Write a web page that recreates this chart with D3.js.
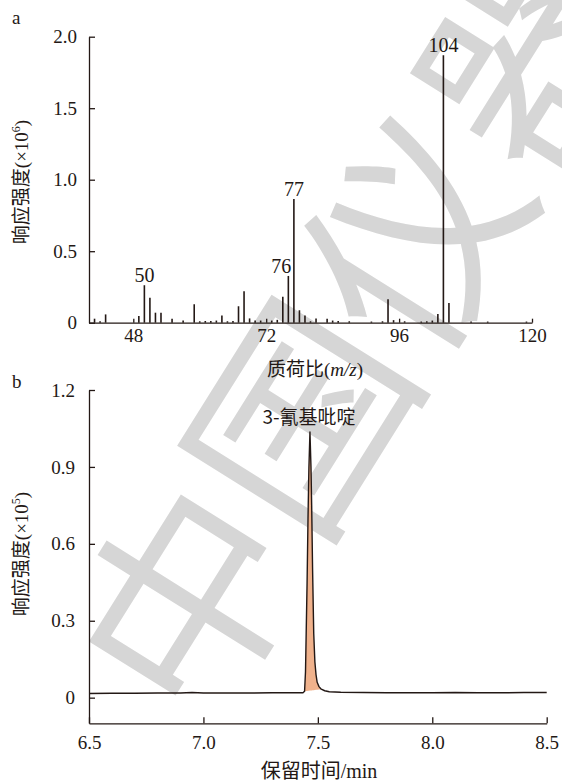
<!DOCTYPE html>
<html>
<head>
<meta charset="utf-8">
<script src="https://cdn.jsdelivr.net/npm/d3@7"></script>
<style>
  body { margin: 0; background: #fff; }
  svg { display: block; }
  text { fill: #231815; }
</style>
</head>
<body>
<div id="chart"></div>
<script>
// panel a: mass spectrum (m/z, intensity x10^6)
const specMz = [41, 42, 43, 49, 50, 51, 52, 53, 55, 57, 59, 60, 61, 62, 63, 64, 65, 66, 67, 68,
  69, 70, 71, 73, 74, 75, 76, 77, 78, 79, 80, 81, 83, 84, 85, 87, 91, 93, 94, 95,
  97, 100, 101, 102, 103, 104, 105, 109, 112, 119];
const specInt = [0.028, 0.01, 0.058, 0.047, 0.262, 0.175, 0.07, 0.07, 0.028, 0.016, 0.129, 0.01, 0.012, 0.012, 0.015, 0.05, 0.01, 0.012, 0.115, 0.22,
  0.03, 0.015, 0.015, 0.015, 0.02, 0.182, 0.327, 0.865, 0.087, 0.05, 0.01, 0.03, 0.028, 0.015, 0.012, 0.01, 0.008, 0.01, 0.164, 0.018,
  0.01, 0.008, 0.01, 0.015, 0.061, 1.87, 0.138, 0.008, 0.008, 0.008];
const specLabels = [50, 76, 77, 104];
const specXTicks = [48, 72, 96, 120];
const specYTicks = [0, 0.5, 1.0, 1.5, 2.0];

// panel b: chromatogram (min, intensity x10^5)
const chromTime = [6.5, 6.6, 6.7, 6.8, 6.9, 6.95, 7.0, 7.1, 7.2, 7.3, 7.4, 7.435,
  7.442, 7.446, 7.449, 7.453, 7.457, 7.461, 7.4655, 7.47, 7.473, 7.477, 7.482, 7.487,
  7.492, 7.497, 7.505, 7.515, 7.53, 7.55, 7.6, 7.7, 7.8, 7.9, 8.0, 8.1, 8.2, 8.3, 8.4, 8.5];
const chromInt = [0.016, 0.017, 0.017, 0.018, 0.018, 0.02, 0.018, 0.018, 0.018, 0.019, 0.019, 0.019,
  0.025, 0.1, 0.25, 0.45, 0.7, 0.9, 1.036, 0.9, 0.75, 0.5, 0.25, 0.14,
  0.09, 0.06, 0.043, 0.033, 0.027, 0.023, 0.021, 0.02, 0.019, 0.019, 0.019, 0.02, 0.019, 0.019, 0.02, 0.02];
const peakRange = [7.438, 7.52];
const peakName = '3-氰基吡啶';
const chromXTicks = [6.5, 7.0, 7.5, 8.0, 8.5];
const chromYTicks = [0, 0.3, 0.6, 0.9, 1.2];

const W = 562, H = 784;
const ink = '#231815';
const serif = '"Times New Roman", "Liberation Serif", "DejaVu Serif", "Noto Sans CJK SC", serif';

const svg = d3.select('#chart').append('svg')
  .attr('width', W).attr('height', H);

// watermark
svg.append('text')
  .attr('transform', 'translate(347,320) rotate(-58)')
  .attr('text-anchor', 'middle')
  .attr('dominant-baseline', 'central')
  .style('font-family', '"Noto Sans CJK SC"')
  .style('font-size', '215px')
  .style('fill', '#d6d6d6')
  .text('中国仪器');

function styleAxis(g) {
  g.attr('font-family', null);
  g.select('.domain').attr('stroke', ink).attr('stroke-width', 1.3);
  g.selectAll('.tick line').attr('stroke', ink).attr('stroke-width', 1.3);
  g.selectAll('.tick text')
    .attr('font-family', serif)
    .style('font-family', serif).style('font-size', '19px').style('fill', ink);
}

// ---------- panel a ----------
const xA = d3.scaleLinear().domain([40, 120]).range([89, 532]);
const yA = d3.scaleLinear().domain([0, 2.0]).range([322.7, 36.7]);

svg.append('g')
  .attr('transform', 'translate(0,' + yA(0) + ')')
  .call(d3.axisBottom(xA).tickValues(specXTicks).tickSizeInner(-4).tickSizeOuter(0).tickPadding(6))
  .call(styleAxis);

svg.append('g')
  .attr('transform', 'translate(' + xA(40) + ',0)')
  .call(d3.axisLeft(yA).tickValues(specYTicks).tickSizeInner(-6).tickSizeOuter(0).tickPadding(12)
    .tickFormat(d => d === 0 ? '0' : d3.format('.1f')(d)))
  .call(styleAxis);

const spec = specMz.map((m, i) => ({ mz: m, v: specInt[i] }));
svg.append('g').selectAll('line')
  .data(spec)
  .enter()
  .append('line')
  .attr('x1', d => xA(d.mz)).attr('x2', d => xA(d.mz))
  .attr('y1', yA(0)).attr('y2', d => yA(d.v))
  .attr('stroke', ink).attr('stroke-width', 1.6);

svg.append('g').selectAll('text')
  .data(spec.filter(d => specLabels.includes(d.mz)))
  .enter()
  .append('text')
  .attr('x', d => xA(d.mz) + (d.mz === 76 ? -7 : 0))
  .attr('y', d => yA(d.v) - 3)
  .attr('text-anchor', 'middle')
  .style('font-family', serif).style('font-size', '20px')
  .text(d => d.mz);

svg.append('text')
  .attr('x', 12).attr('y', 24)
  .style('font-family', serif).style('font-size', '19px')
  .text('a');

const xtA = svg.append('text')
  .attr('x', 315).attr('y', 376)
  .attr('text-anchor', 'middle')
  .style('font-family', serif).style('font-size', '19px');
xtA.append('tspan').text('质荷比(');
xtA.append('tspan').style('font-style', 'italic').text('m/z');
xtA.append('tspan').text(')');

function yTitle(cy, exp) {
  const t = svg.append('text')
    .attr('transform', 'translate(28,' + cy + ') rotate(-90)')
    .attr('text-anchor', 'middle')
    .style('font-family', serif).style('font-size', '19px');
  t.append('tspan').text('响应强度(×10');
  t.append('tspan').attr('dy', -8).style('font-size', '12px').text(exp);
  t.append('tspan').attr('dy', 8).text(')');
}
yTitle(182, '6');

// ---------- panel b ----------
const xB = d3.scaleLinear().domain([6.5, 8.5]).range([89, 546.7]);
const yB = d3.scaleLinear().domain([-0.1, 1.2]).range([723.3, 390]);

svg.append('g')
  .attr('transform', 'translate(0,' + yB(-0.1) + ')')
  .call(d3.axisBottom(xB).tickValues(chromXTicks).tickSizeInner(-6).tickSizeOuter(0).tickPadding(12)
    .tickFormat(d3.format('.1f')))
  .call(styleAxis);

svg.append('g')
  .attr('transform', 'translate(' + xB(6.5) + ',0)')
  .call(d3.axisLeft(yB).tickValues(chromYTicks).tickSizeInner(-6).tickSizeOuter(0).tickPadding(14)
    .tickFormat(d => d === 0 ? '0' : d3.format('.1f')(d)))
  .call(styleAxis);

const chrom = chromTime.map((t, i) => ({ t: t, v: chromInt[i] }));
const peakPts = chrom.filter(d => d.t >= peakRange[0] && d.t <= peakRange[1]);
const base0 = peakPts[0], base1 = peakPts[peakPts.length - 1];
const baseAt = t => base0.v + (base1.v - base0.v) * (t - base0.t) / (base1.t - base0.t);

svg.append('path')
  .datum(peakPts)
  .attr('fill', '#f0b28c')
  .attr('d', d3.area()
    .x(d => xB(d.t))
    .y0(d => yB(baseAt(d.t)))
    .y1(d => yB(d.v)));

svg.append('path')
  .datum(chrom)
  .attr('fill', 'none')
  .attr('stroke', ink)
  .attr('stroke-width', 1.4)
  .attr('stroke-linejoin', 'round')
  .attr('d', d3.line().x(d => xB(d.t)).y(d => yB(d.v)));

svg.append('text')
  .attr('x', 309).attr('y', 424)
  .attr('text-anchor', 'middle')
  .style('font-family', '"Noto Sans CJK SC", sans-serif').style('font-size', '19px')
  .text(peakName);

svg.append('text')
  .attr('x', 12).attr('y', 388)
  .style('font-family', serif).style('font-size', '19px')
  .text('b');

svg.append('text')
  .attr('x', 319).attr('y', 778)
  .attr('text-anchor', 'middle')
  .style('font-family', serif).style('font-size', '20px')
  .text('保留时间/min');

yTitle(554, '5');
</script>
</body>
</html>
